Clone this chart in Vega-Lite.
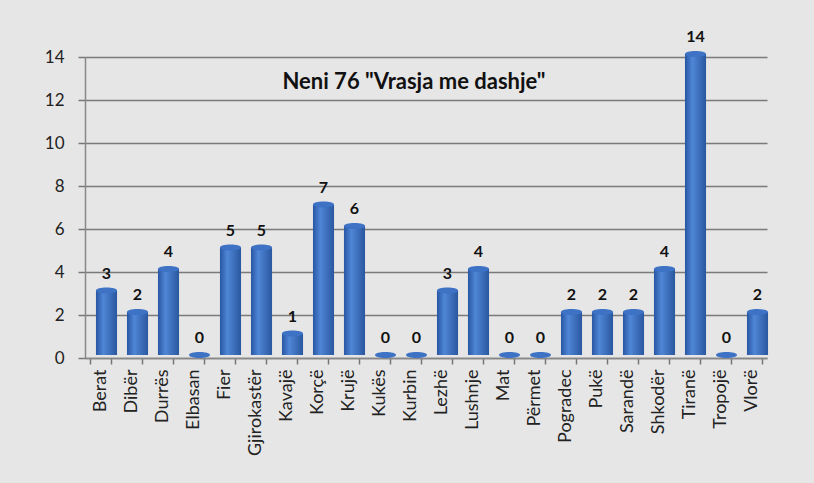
{
  "$schema": "https://vega.github.io/schema/vega-lite/v6.json",
  "width": 682,
  "height": 301,
  "autosize": {"type": "none"},
  "padding": {"left": 85, "top": 57, "right": 47, "bottom": 125},
  "background": "#e6e6e6",
  "config": {"view": {"stroke": null}, "font": "Lato"},
  "datasets": {
    "counts": [
      {"q": "Berat", "v": 3}, {"q": "Dibër", "v": 2}, {"q": "Durrës", "v": 4}, {"q": "Elbasan", "v": 0},
      {"q": "Fier", "v": 5}, {"q": "Gjirokastër", "v": 5}, {"q": "Kavajë", "v": 1}, {"q": "Korçë", "v": 7},
      {"q": "Krujë", "v": 6}, {"q": "Kukës", "v": 0}, {"q": "Kurbin", "v": 0}, {"q": "Lezhë", "v": 3},
      {"q": "Lushnje", "v": 4}, {"q": "Mat", "v": 0}, {"q": "Përmet", "v": 0}, {"q": "Pogradec", "v": 2},
      {"q": "Pukë", "v": 2}, {"q": "Sarandë", "v": 2}, {"q": "Shkodër", "v": 4}, {"q": "Tiranë", "v": 14},
      {"q": "Tropojë", "v": 0}, {"q": "Vlorë", "v": 2}
    ],
    "heading": [{"label": "Neni  76 \"Vrasja me dashje\""}]
  },
  "layer": [
    {
      "data": {"name": "counts"},
      "encoding": {
        "x": {"field": "q", "type": "nominal", "sort": null, "title": null,
          "scale": {"paddingInner": 0.32, "paddingOuter": 0.16},
          "axis": {"labelAngle": -90, "labelAlign": "right", "labelBaseline": "middle", "labelFontSize": 18, "labelColor": "#222", "labelPadding": 5, "tickBand": "extent", "tickSize": 6, "tickColor": "#777", "tickWidth": 1.5, "domainColor": "#888", "domainWidth": 1.5, "grid": false}},
        "y": {"field": "v", "type": "quantitative", "title": null,
          "scale": {"domain": [0, 14], "nice": false},
          "axis": {"values": [0, 2, 4, 6, 8, 10, 12, 14], "labelFontSize": 17, "labelColor": "#222", "labelPadding": 14, "tickSize": 7, "tickColor": "#777", "tickWidth": 1.5, "domainColor": "#888", "domainWidth": 1.5, "grid": true, "gridColor": "#7a7a7a", "gridWidth": 1.5}}
      },
      "layer": [
        {"mark": {"type": "bar", "xOffset": 6, "yOffset": -3,
          "color": {"gradient": "linear", "x1": 0, "x2": 1, "y1": 0, "y2": 0,
            "stops": [{"offset": 0, "color": "#2856a3"}, {"offset": 0.35, "color": "#4f86d6"}, {"offset": 1, "color": "#2a579f"}]}}},
        {"mark": {"type": "point", "filled": true, "xOffset": 6, "yOffset": -3, "size": 441, "opacity": 1, "color": "#3d72c4",
          "shape": "M-1,0A1,0.28,0,1,0,1,0A1,0.28,0,1,0,-1,0Z"}},
        {"mark": {"type": "text", "xOffset": 6, "dy": -20, "fontSize": 16, "fontWeight": "bold", "color": "#111", "font": "Lato"},
          "encoding": {"text": {"field": "v", "type": "quantitative"}}}
      ]
    },
    {
      "data": {"name": "heading"},
      "mark": {"type": "text", "font": "Lato", "fontSize": 22, "fontWeight": "bold", "color": "#111", "dx": -12, "baseline": "middle", "align": "center"},
      "encoding": {
        "y": {"datum": 12.85, "type": "quantitative"},
        "text": {"field": "label", "type": "nominal"}
      }
    }
  ]
}
